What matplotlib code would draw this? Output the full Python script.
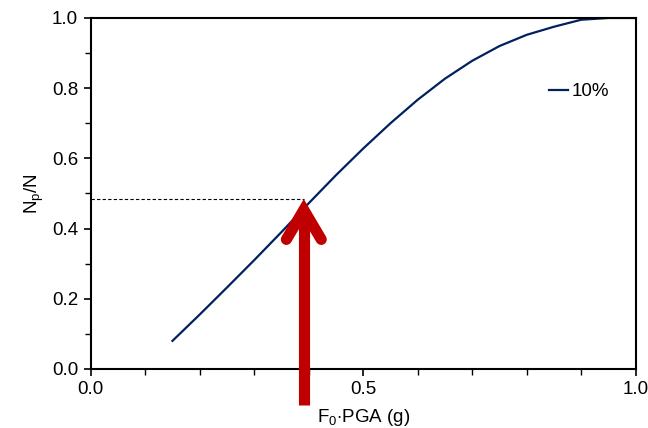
import matplotlib
matplotlib.use("Agg")
import matplotlib.pyplot as plt
from matplotlib.lines import Line2D
from matplotlib.ticker import MultipleLocator, FormatStrFormatter

plt.rcParams['font.family'] = ['Liberation Sans', 'DejaVu Sans']
plt.rcParams['mathtext.fontset'] = 'custom'
plt.rcParams['mathtext.rm'] = 'Liberation Sans'

# data
pga = [0.15, 0.20, 0.25, 0.30, 0.35, 0.40, 0.45, 0.50, 0.55, 0.60, 0.65, 0.70,
       0.75, 0.80, 0.85, 0.90, 0.95, 1.00]
ratio = [0.08, 0.155, 0.232, 0.31, 0.39, 0.472, 0.552, 0.628, 0.70, 0.767, 0.827, 0.878,
         0.92, 0.952, 0.975, 0.995, 1.0, 1.0]
series_label = "10%"
mark_x = 0.391
mark_y = 0.483

fig = plt.figure(figsize=(6.48, 4.28), dpi=100)
ax = fig.add_axes([0.140, 0.138, 0.841, 0.820])

ax.plot(pga, ratio, color='#002060', lw=1.6, label=series_label,
        solid_joinstyle='round')
ax.plot([0, mark_x], [mark_y, mark_y], color='black', lw=0.8, ls=(0, (3, 2)))

red = '#C00000'
vertex_y = mark_y - 0.030
# arrow shaft
shaft = Line2D([mark_x, mark_x], [-0.103, vertex_y], color=red, lw=8,
               solid_capstyle='butt', clip_on=False, zorder=5)
ax.add_line(shaft)
# arrow head (chevron)
head = Line2D([mark_x - 0.032, mark_x, mark_x + 0.032],
              [mark_y - 0.114, vertex_y, mark_y - 0.114], color=red, lw=8,
              solid_capstyle='round', solid_joinstyle='miter',
              clip_on=False, zorder=5)
ax.add_line(head)

ax.set_xlim(0, 1)
ax.set_ylim(0, 1)
ax.xaxis.set_major_locator(MultipleLocator(0.5))
ax.xaxis.set_minor_locator(MultipleLocator(0.1))
ax.yaxis.set_major_locator(MultipleLocator(0.2))
ax.yaxis.set_minor_locator(MultipleLocator(0.1))
ax.xaxis.set_major_formatter(FormatStrFormatter('%.1f'))
ax.yaxis.set_major_formatter(FormatStrFormatter('%.1f'))
ax.tick_params(which='major', direction='out', length=5, width=1.2, labelsize=13.5, pad=4)
ax.tick_params(which='minor', direction='out', length=4, width=1.0)
for s in ax.spines.values():
    s.set_linewidth(1.5)

ax.set_xlabel(r'F$_0$$\cdot$PGA (g)', fontsize=13.5, labelpad=6.5)
ax.set_ylabel(r'N$_\mathrm{p}$/N', fontsize=13.5, labelpad=4)

ax.legend(loc='center left', bbox_to_anchor=(0.81, 0.79), frameon=False,
          handlelength=1.0, handletextpad=0.2, fontsize=13.5)

fig.savefig('out.png', dpi=100)
